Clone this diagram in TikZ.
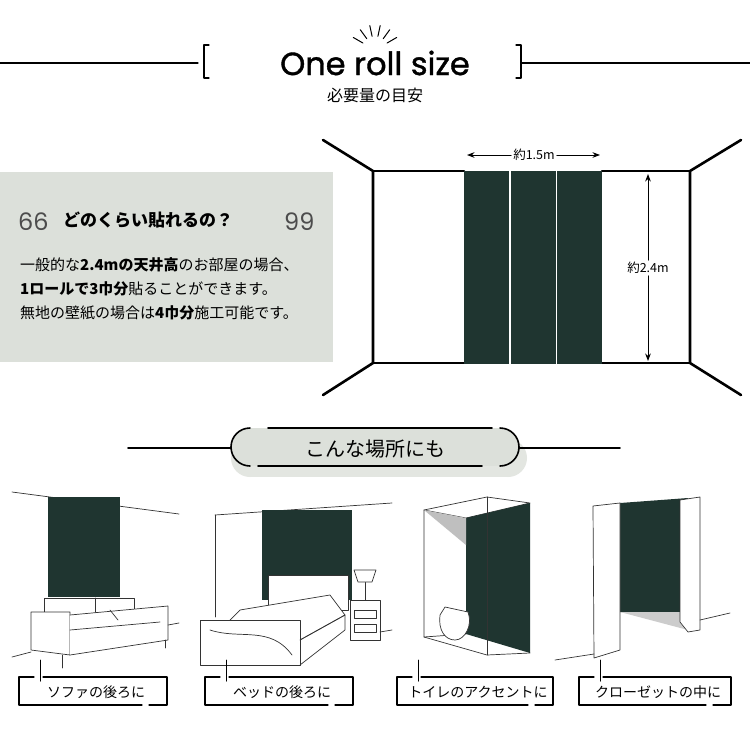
\documentclass[tikz,border=0pt]{standalone}
\usepackage{fontspec}
\setmainfont{Noto Sans CJK JP}
\newfontfamily\titlefont{Poppins}[FakeBold=1.2]
\newfontfamily\quotefont{Poppins}
\usetikzlibrary{calc}
\usetikzlibrary{arrows.meta}
\definecolor{wallgreen}{HTML}{1F3530}
\definecolor{boxgrey}{HTML}{DCE0DA}
\begin{document}
\begin{tikzpicture}[x=1pt, y=-1pt, line cap = round, line join = round, >=Stealth]
\tikzstyle{frame}=[line width=2.6pt, draw=black]
\tikzstyle{sketch}=[line width=0.7pt, draw=black!80]
\tikzstyle{strip}=[fill=wallgreen, draw=none]
\tikzstyle{place}=[font=\fontsize{14}{14}\selectfont, inner sep=0pt]
\useasboundingbox[fill=white] (0,0) rectangle (750,750);

% title
\foreach \a in {-150,-126,-102,-78,-54,-30}
  \draw[line width=1pt] ($(375,50)+(\a:14)$) -- ($(375,50)+(\a:25)$);
\node[font=\titlefont\fontsize{32}{32}\selectfont, inner sep=0pt] (title) at (375,63) {One roll size};
\node[font=\fontsize{16}{16}\selectfont, inner sep=0pt] (subtitle) at (375,95) {必要量の目安};
\draw[line width=1.2pt] (0,63) -- (198,63);
\draw[line width=1.2pt] (209,45) -- (204,45) -- (204,78) -- (209,78);
\draw[line width=1.2pt] (516,45) -- (521,45) -- (521,78) -- (516,78);
\draw[line width=1.2pt] (521,63) -- (750,63);

% text box
\fill[boxgrey] (0,172) rectangle (333,362);
\node[anchor=west, font=\quotefont\fontsize{24}{24}\selectfont, text=black!70, inner sep=0pt] (q1) at (18,222) {66};
\node[anchor=west, font=\fontsize{17}{17}\selectfont\bfseries, inner sep=0pt] (question) at (63,220) {どのくらい貼れるの？};
\node[anchor=west, font=\quotefont\fontsize{24}{24}\selectfont, text=black!70, inner sep=0pt] (q2) at (284,222) {99};
\node[anchor=west, font=\fontsize{15}{15}\selectfont, inner sep=0pt] (line1) at (20,265) {一般的な\textbf{2.4mの天井高}のお部屋の場合、};
\node[anchor=west, font=\fontsize{15}{15}\selectfont, inner sep=0pt] (line2) at (20,289) {\textbf{1ロールで3巾分}貼ることができます。};
\node[anchor=west, font=\fontsize{15}{15}\selectfont, inner sep=0pt] (line3) at (20,313) {無地の壁紙の場合は\textbf{4巾分}施工可能です。};

% room
\draw[frame] (323,140) -- (373,171) -- (373,363) -- (323,395);
\draw[frame] (741,140) -- (690,171) -- (690,363) -- (741,395);
\draw[frame] (373,171) -- (464,171);
\draw[frame] (602,171) -- (690,171);
\draw[frame] (373,363) -- (464,363);
\draw[frame] (602,363) -- (690,363);
\foreach \x in {464,511,557}
  \fill[strip] (\x,171) rectangle ++(45,193);
\node[font=\fontsize{12.5}{12.5}\selectfont, fill=white, inner sep=2pt] (wlabel) at (534,155) {約1.5m};
\coordinate (wl) at (467,155);
\coordinate (wr) at (600,155);
\draw[line width=1pt, ->] (wlabel) -- (wl);
\draw[line width=1pt, ->] (wlabel) -- (wr);
\node[font=\fontsize{12.5}{12.5}\selectfont, fill=white, inner sep=2pt] (hlabel) at (648,268) {約2.4m};
\coordinate (ht) at (648,174);
\coordinate (hb) at (648,361);
\draw[line width=1pt, ->] (hlabel) -- (ht);
\draw[line width=1pt, ->] (hlabel) -- (hb);

% places heading
\fill[boxgrey!80] (250,440) rectangle (508,477);
\fill[boxgrey!80] (250,458) circle (19);
\fill[boxgrey!80] (508,458) circle (19);
\fill[boxgrey] (250,428) rectangle (500,466);
\fill[boxgrey] (250,447) circle (19);
\fill[boxgrey] (500,447) circle (19);
\draw[line width=1.6pt] (128,448) -- (231,448);
\draw[line width=1.6pt] (519,448) -- (620,448);
\draw[line width=1.6pt] (250,428) arc (-90:-270:19);
\draw[line width=1.6pt] (500,428) arc (-90:90:19);
\draw[line width=1.6pt] (268,428) -- (492,428);
\draw[line width=1.6pt] (258,466) -- (482,466);
\node[font=\fontsize{20}{20}\selectfont, inner sep=0pt] (heading) at (375,449) {こんな場所にも};

% sofa
\draw[sketch] (12,492) -- (179,514);
\fill[strip] (48,497) rectangle (120,597);
\draw[sketch, fill=white] (44,598) rectangle (134,625);
\draw[sketch] (95,598) -- (95,625);
\draw[sketch, fill=white] (31,612) -- (70,612) -- (70,655) -- (31,650) -- cycle;
\draw[sketch, fill=white] (70,615) -- (168,606) -- (168,640) -- (70,655);
\draw[sketch] (70,630) -- (160,622);
\draw[sketch] (110,610) -- (118,620);
\draw[sketch] (12,657) -- (31,652);
\draw[sketch] (168,625) -- (179,623);
\draw[sketch] (62,655) -- (62,668);
\draw[sketch] (165,640) -- (165,648);

% bed
\draw[sketch] (215,515) -- (392,503);
\draw[sketch] (215,515) -- (215,617);
\fill[strip] (262,510) rectangle (352,600);
\draw[sketch, fill=white] (268,575) rectangle (348,610);
\draw[sketch, fill=white] (240,610) -- (330,595) -- (345,615) -- (300,640) -- (225,625) -- cycle;
\draw[sketch, fill=white] (200,620) -- (300,620) -- (300,665) -- (200,665) -- cycle;
\draw[sketch] (210,630) .. controls (240,640) and (270,625) .. (292,655);
\draw[sketch] (300,640) -- (345,615) -- (345,630) -- (300,665);
\draw[sketch, fill=white] (350,600) rectangle (380,640);
\draw[sketch] (354,610) rectangle (376,618);
\draw[sketch] (354,624) rectangle (376,632);
\draw[sketch] (365,600) -- (365,582);
\draw[sketch, fill=white] (358,582) -- (372,582) -- (376,570) -- (354,570) -- cycle;
\draw[sketch] (380,632) -- (392,630);

% toilet
\draw[sketch] (424,510) -- (487,497) -- (530,503) -- (466,518) -- cycle;
\fill[wallgreen] (466,518) -- (530,503) -- (530,653) -- (466,634) -- cycle;
\fill[black!25] (424,510) -- (466,518) -- (466,545) -- cycle;
\draw[sketch] (424,510) -- (424,637) -- (487,655) -- (530,653);
\draw[sketch] (487,497) -- (487,655);
\draw[sketch] (424,637) -- (466,634);
\draw[sketch, fill=white] (440,615) .. controls (438,630) and (445,640) .. (455,640) .. controls (465,640) and (473,625) .. (468,612) -- (445,607) -- cycle;

% closet
\fill[wallgreen] (620,503) -- (688,498) -- (688,612) -- (620,612) -- cycle;
\fill[black!20] (620,612) -- (688,612) -- (688,630) -- cycle;
\draw[sketch, fill=white] (593,506) -- (620,503) -- (620,650) -- (594,658) -- cycle;
\draw[sketch, fill=white] (680,500) -- (700,497) -- (700,630) -- (688,632) -- (680,622) -- cycle;
\draw[sketch] (555,660) -- (594,654);
\draw[sketch] (700,620) -- (730,613);

% labels
\foreach \xa/\xb/\txt/\nm in {19/167/ソファの後ろに/sofa, 205/353/ベッドの後ろに/bed, 397/553/トイレのアクセントに/toilet, 579/731/クローゼットの中に/closet}{
  \draw[line width=1.2pt] (\xa+15,677) -- (\xa,677) -- (\xa,705) -- (\xb-25,705);
  \draw[line width=1.2pt] (\xa+24,677) -- (\xb,677) -- (\xb,705) -- (\xb-18,705);
  \draw[line width=1pt] (\xa+21,660) -- (\xa+21,681);
  \node[place] (\nm) at ({(\xa+\xb)/2+3},692) {\txt};
}
\end{tikzpicture}
\end{document}
